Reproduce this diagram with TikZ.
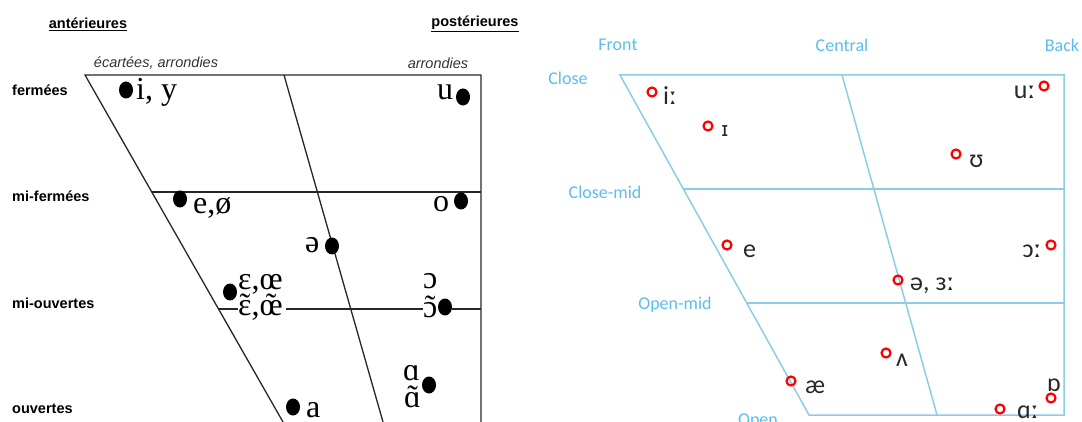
\documentclass[tikz,border=0pt]{standalone}
\usepackage{fontspec}
\usetikzlibrary{shapes.geometric}
\setmainfont{Liberation Serif}
\newfontfamily\lsans{Liberation Sans}
\newfontfamily\calib{Carlito}
\newfontfamily\djv{DejaVu Sans}
\newcommand\tildeover[1]{{\ooalign{#1\cr\hidewidth\char"02DC\hidewidth\cr}}}
\definecolor{skyl}{RGB}{92,190,232}
\definecolor{skyline}{RGB}{140,205,230}
\definecolor{ink}{RGB}{40,40,40}
\tikzset{
 frlab/.style={font=\lsans\bfseries\fontsize{14.5}{16}\selectfont, inner sep=0},
 frit/.style={font=\lsans\itshape\fontsize{14.5}{16}\selectfont, text=black!80, inner sep=0},
 vow/.style={font=\fontsize{32}{34}\selectfont, inner sep=0, anchor=base west},
 bdot/.style={ellipse, fill=black, minimum width=14pt, minimum height=17pt, inner sep=0},
 enlab/.style={font=\calib\fontsize{18}{20}\selectfont, text=skyl, inner sep=0},
 ipa/.style={font=\calib\fontsize{26}{28}\selectfont, text=ink, inner sep=0, anchor=west},
 rdot/.style={circle, draw=red, line width=2.2pt, minimum size=9pt, inner sep=0},
 lline/.style={draw=black!85, line width=1.3pt},
 rline/.style={draw=skyline, line width=1.5pt},
}
\begin{document}
\begin{tikzpicture}[x=1pt,y=-1pt]
\useasboundingbox (0,0) rectangle (1082,422);
\clip (0,0) rectangle (1082,422);
% ---------------- left chart ----------------
\coordinate (LTL) at (85,75);
\coordinate (LTR) at (481,75);
\coordinate (LCT) at (284,75);
\coordinate (LBL) at (283,422);
\coordinate (LBR) at (481,422);
\coordinate (LCB) at (383,422);
\coordinate (LM1) at (152,192);
\coordinate (LM1R) at (481,192);
\coordinate (LM2) at (218,309);
\coordinate (LM2R) at (481,309);
\draw[lline] (LBL) -- (LTL) -- (LTR) -- (LBR);
\draw[lline] (LCT) -- (LCB);
\draw[lline] (LM1) -- (LM1R);

\node[frlab] (ant) at (88,24) {\underline{antérieures}};
\node[frlab] (post) at (475,24) {\underline{postérieures}};
\node[frit] (ecart) at (156,63) {écartées, arrondies};
\node[frit] (arr) at (438,63) {arrondies};
\node[frlab, anchor=west] (ferm) at (12,90) {fermées};
\node[frlab, anchor=west] (mferm) at (12,196) {mi-fermées};
\node[frlab, anchor=west] (mouv) at (12,303) {mi-ouvertes};
\node[frlab, anchor=west] (ouv) at (12,409) {ouvertes};

\node[bdot] (d1) at (126,90) {};
\node[vow] (v1) at (136,100) {i, y};
\node[bdot] (d2) at (463,97) {};
\node[vow] (v2) at (437,100) {u};
\node[bdot] (d3) at (180,199) {};
\node[vow] (v3) at (193,214) {e,ø};
\node[bdot] (d4) at (461,201) {};
\node[vow] (v4) at (433,212) {o};
\node[bdot] (d5) at (332,246) {};
\node[vow] (v5) at (305,253) {ə};
\node[bdot] (d6) at (230,292) {};
\node[vow] (v6) at (238,289) {ɛ,œ};
\node[vow] (v6n) at (238,316) {\tildeover{ɛ},\tildeover{œ}};
\node[vow] (v7) at (423,288) {ɔ};
\node[vow] (v7n) at (423,317) {\tildeover{ɔ}};
\node[bdot] (d7) at (445,307) {};
\node[vow] (v8) at (403,380) {ɑ};
\node[vow] (v8n) at (404,407) {\tildeover{ɑ}};
\node[bdot] (d8) at (429,385) {};
\node[bdot] (d9) at (293,407) {};
\node[vow] (v9) at (306,417) {a};

\draw[lline] (LM2) -- (v6n.west |- LM2);
\draw[lline] (v6n.east |- LM2) ++(3,0) -- (v7n.west |- LM2);
\draw[lline] (d7.east |- LM2) -- (LM2R);

% ---------------- right chart ----------------
\coordinate (RTL) at (620,75);
\coordinate (RTR) at (1064,75);
\coordinate (RBR) at (1064,415);
\coordinate (RBL) at (809,415);
\coordinate (RCT) at (842,75);
\coordinate (RCB) at (937,415);
\coordinate (RM1) at (683,189);
\coordinate (RM1R) at (1064,189);
\coordinate (RM2) at (747,303);
\coordinate (RM2R) at (1064,303);
\draw[rline] (RTL) -- (RTR) -- (RBR) -- (RBL) -- cycle;
\draw[rline] (RCT) -- (RCB);
\draw[rline] (RM1) -- (RM1R);
\draw[rline] (RM2) -- (RM2R);

\node[enlab] (front) at (618,45) {Front};
\node[enlab] (central) at (842,45) {Central};
\node[enlab] (back) at (1062,45) {Back};
\node[enlab] (close) at (568,78) {Close};
\node[enlab] (closemid) at (605,192) {Close-mid};
\node[enlab] (openmid) at (675,305) {Open-mid};
\node[enlab] (open) at (758,421) {Open};

\node[rdot] (r1) at (652,92) {};
\node[ipa] (t1) at (663,96) {iː};
\node[rdot] (r2) at (708,126) {};
\node[ipa, font=\djv\fontsize{20}{22}\selectfont] (t2) at (721,131) {ɪ};
\node[rdot] (r3) at (1044,86) {};
\node[ipa, anchor=east] (t3) at (1035,92) {uː};
\node[rdot] (r4) at (956,154) {};
\node[ipa] (t4) at (969,161) {ʊ};
\node[rdot] (r5) at (1051,245) {};
\node[ipa, anchor=east] (t5) at (1041,251) {ɔː};
\node[rdot] (r6) at (727,245) {};
\node[ipa] (t6) at (743,251) {e};
\node[rdot] (r7) at (898,280) {};
\node[ipa] (t7) at (910,286) {ə, ɜː};
\node[rdot] (r8) at (886,353) {};
\node[ipa] (t8) at (896,360) {ʌ};
\node[rdot] (r9) at (791,381) {};
\node[ipa] (t9) at (805,387) {æ};
\node[ipa] (t10) at (1047,385) {ɒ};
\node[rdot] (r10) at (1051,398) {};
\node[rdot] (r11) at (1000,409) {};
\node[ipa] (t11) at (1017,412) {ɑː};
\end{tikzpicture}
\end{document}
